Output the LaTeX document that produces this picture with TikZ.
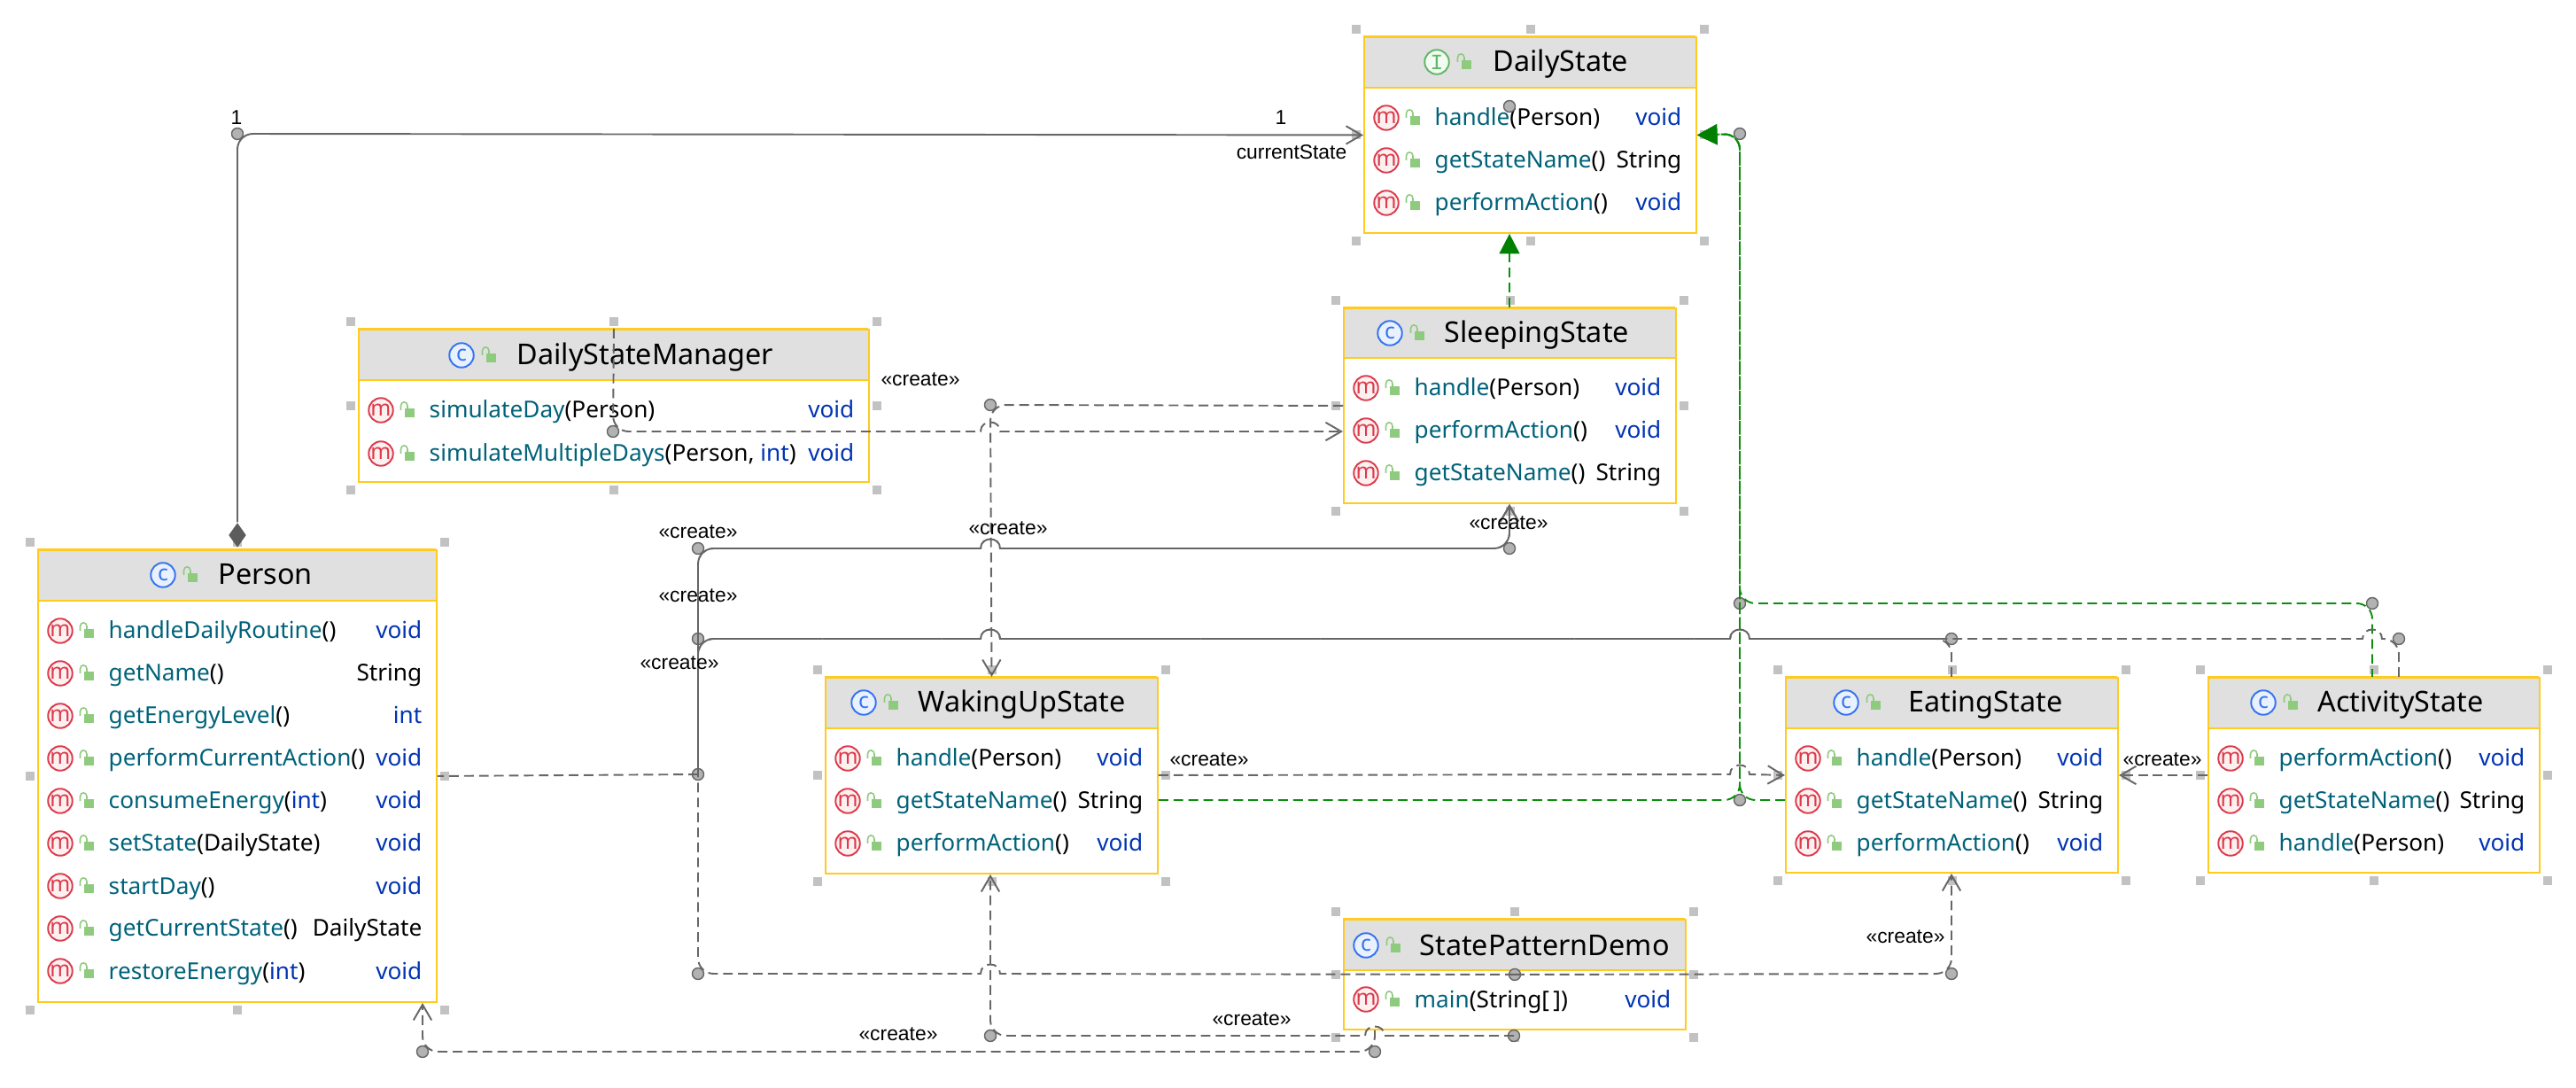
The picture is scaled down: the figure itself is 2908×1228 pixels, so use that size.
\documentclass[tikz,border=0pt]{standalone}
\usepackage{fontspec}
\usetikzlibrary{arrows.meta,shapes.geometric}
\setmainfont{Noto Sans}
\newfontfamily\lblfont{Liberation Sans}
\newfontfamily\ifacefont{Liberation Mono}
\definecolor{byel}{HTML}{FFCB1F}
\definecolor{hdgray}{HTML}{E0E0E0}
\definecolor{hndl}{HTML}{C2C2C2}
\definecolor{mred}{HTML}{DB3B4B}
\definecolor{mfill}{HTML}{FDF0F1}
\definecolor{cblue}{HTML}{3574F0}
\definecolor{cfill}{HTML}{E9F0FE}
\definecolor{igreen}{HTML}{5FB865}
\definecolor{ifill}{HTML}{F2FCF3}
\definecolor{lockg}{HTML}{8FCB7E}
\definecolor{teal0}{HTML}{00627A}
\definecolor{kwblue}{HTML}{0033B3}
\definecolor{edgegray}{HTML}{666666}
\definecolor{jfill}{HTML}{B2B2B2}
\definecolor{edgegreen}{HTML}{0B8E0B}
\definecolor{tipgreen}{HTML}{008000}
\newcounter{tn}
\newcommand{\mn}[1]{\textcolor{teal0}{#1}}
\newcommand{\kw}[1]{\textcolor{kwblue}{#1}}
\tikzset{
  ubox/.style={draw=byel,line width=0.55pt,anchor=north west,inner sep=0pt,rectangle},
  iconbase/.style={circle,inner sep=0pt,minimum size=0.275cm,line width=0.55pt,font=\fontsize{7}{7}\selectfont},
  iconm/.style={iconbase,draw=mred,fill=mfill,text=mred},
  iconc/.style={iconbase,draw=cblue,fill=cfill,text=cblue},
  iconi/.style={iconbase,draw=igreen,fill=ifill,text=igreen},
  rowtxt/.style={inner sep=0pt,font=\fontsize{7.45}{9}\selectfont},
  titletxt/.style={inner sep=0pt,anchor=base west,font=\fontsize{9.2}{11}\selectfont},
  lbl/.style={inner sep=0pt,text=black,font=\lblfont\fontsize{6.5}{8}\selectfont},
  joint/.style={circle,draw=edgegray,fill=jfill,line width=0.4pt,inner sep=0pt,minimum size=0.13cm},
  gedge/.style={draw=edgegray,line width=0.55pt,rounded corners=5pt,line cap=butt},
  gdash/.style={gedge,dash pattern=on 3.1pt off 1.7pt},
  gdashb/.style={gedge,dash pattern=on 3.1pt off 1.7pt,dash phase=2.4pt},
  grdash/.style={draw=edgegreen,line width=0.55pt,rounded corners=5pt,dash pattern=on 3.1pt off 1.7pt},
  opentip/.style={-{Straight Barb[length=5pt,width=5.8pt]}},
  greentip/.style={-{Triangle[length=6.4pt,width=6.5pt,fill=tipgreen,color=tipgreen]}},
}
\newcommand{\hd}[2]{\fill[hndl] ({#1-5},{#2-5}) rectangle ++(10,10);}
\newcommand{\umlbox}[6]{%
  \pgfmathsetmacro{\bw}{(#4-#2)*0.01}%
  \pgfmathsetmacro{\bh}{(#5-#3)*0.01}%
  \pgfmathsetmacro{\mx}{(#2+#4)/2+1}%
  \pgfmathsetmacro{\my}{(#3+#5)/2+1}%
  \hd{#2-8}{#3-8}\hd{\mx}{#3-8}\hd{#4+10}{#3-8}%
  \hd{#2-8}{\my}\hd{#4+10}{\my}%
  \hd{#2-8}{#5+10}\hd{\mx}{#5+10}\hd{#4+10}{#5+10}%
  \fill[hdgray] (#2,#3) rectangle (#4,#6);
  \node[ubox,minimum width=\bw cm,minimum height=\bh cm] (#1) at (#2,#3) {};
  \draw[byel,line width=0.75pt] (#2,#3) -- (#4,#3);
  \draw[byel,line width=0.75pt] (#2,#6) -- (#4,#6);
}
\newcommand{\lockic}[2]{%
  \begin{scope}[shift={(#1,#2)}]
    \fill[lockg] (-3,-2) rectangle (8,8);
    \draw[lockg,line width=0.45pt] (-7.5,0) -- (-7.5,-5) .. controls (-7.5,-10.5) and (0,-10.5) .. (0,-5) -- (0,-2);
  \end{scope}}
\newcommand{\urow}[5]{%
  \stepcounter{tn}%
  \node[iconm] (ic\arabic{tn}) at ({#1+26},#3) {m};
  \lockic{#1+56}{#3}
  \node[rowtxt,anchor=base west] (lt\arabic{tn}) at ({#1+80},{#3+9}) {#4};
  \node[rowtxt,anchor=base east] (rt\arabic{tn}) at ({#2-15},{#3+9}) {#5};
}
\newcommand{\utitle}[4]{%
  \stepcounter{tn}%
  \node[#1] (ic\arabic{tn}) at (#2,#3) {#4};
  \lockic{#2+31}{#3}
}
\newcommand{\ttl}[3]{\stepcounter{tn}\node[titletxt] (tt\arabic{tn}) at (#1,{#2+11}) {#3};}
\newcommand{\hopR}[2]{[sharp corners] -- ({#1-11},#2) .. controls ({#1-11},{#2-14}) and ({#1+11},{#2-14}) .. ({#1+11},#2) [rounded corners=5pt]}
\newcommand{\hopL}[2]{[sharp corners] -- ({#1+11},#2) .. controls ({#1+11},{#2-14}) and ({#1-11},{#2-14}) .. ({#1-11},#2) [rounded corners=5pt]}
\newcommand{\lab}[3]{\stepcounter{tn}\node[lbl] (lb\arabic{tn}) at (#1,#2) {#3};}
\begin{document}
\begin{tikzpicture}[x=0.01cm,y=-0.01cm]
\useasboundingbox (0,0) rectangle (2908,1228);
% boxes
\umlbox{daily}{1539}{41}{1914}{262}{99}
\umlbox{sleeping}{1516}{347}{1891}{567}{404}
\umlbox{manager}{404}{371}{980}{543}{429}
\umlbox{person}{42}{620}{492}{1130}{678}
\umlbox{waking}{931}{764}{1306}{985}{822}
\umlbox{eating}{2015}{764}{2390}{984}{822}
\umlbox{activity}{2492}{764}{2866}{984}{822}
\umlbox{demo}{1516}{1037}{1902}{1161}{1095}
% titles
\utitle{iconi}{1622}{70}{\ifacefont\fontsize{7}{7}\selectfont I}
\ttl{1685}{70}{DailyState}
\utitle{iconc}{1569}{376}{c}
\ttl{1630}{376}{SleepingState}
\utitle{iconc}{521}{401}{c}
\ttl{583}{401}{DailyStateManager}
\utitle{iconc}{184}{649}{c}
\ttl{246}{649}{Person}
\utitle{iconc}{975}{793}{c}
\ttl{1036}{793}{WakingUpState}
\utitle{iconc}{2084}{793}{c}
\ttl{2154}{793}{EatingState}
\utitle{iconc}{2555}{793}{c}
\ttl{2616}{793}{ActivityState}
\utitle{iconc}{1542}{1067}{c}
\ttl{1602}{1067}{StatePatternDemo}
% rows
\urow{1539}{1914}{133}{\mn{handle}(Person)}{\kw{void}}
\urow{1539}{1914}{181}{\mn{getStateName}()}{String}
\urow{1539}{1914}{229}{\mn{performAction}()}{\kw{void}}
\urow{1516}{1891}{438}{\mn{handle}(Person)}{\kw{void}}
\urow{1516}{1891}{486}{\mn{performAction}()}{\kw{void}}
\urow{1516}{1891}{534}{\mn{getStateName}()}{String}
\urow{404}{980}{463}{\mn{simulateDay}(Person)}{\kw{void}}
\urow{404}{980}{512}{\mn{simulateMultipleDays}(Person, \kw{int})}{\kw{void}}
\urow{42}{492}{712}{\mn{handleDailyRoutine}()}{\kw{void}}
\urow{42}{492}{760}{\mn{getName}()}{String}
\urow{42}{492}{808}{\mn{getEnergyLevel}()}{\kw{int}}
\urow{42}{492}{856}{\mn{performCurrentAction}()}{\kw{void}}
\urow{42}{492}{904}{\mn{consumeEnergy}(\kw{int})}{\kw{void}}
\urow{42}{492}{952}{\mn{setState}(DailyState)}{\kw{void}}
\urow{42}{492}{1000}{\mn{startDay}()}{\kw{void}}
\urow{42}{492}{1048}{\mn{getCurrentState}()}{DailyState}
\urow{42}{492}{1096}{\mn{restoreEnergy}(\kw{int})}{\kw{void}}
\urow{931}{1306}{856}{\mn{handle}(Person)}{\kw{void}}
\urow{931}{1306}{904}{\mn{getStateName}()}{String}
\urow{931}{1306}{952}{\mn{performAction}()}{\kw{void}}
\urow{2015}{2390}{856}{\mn{handle}(Person)}{\kw{void}}
\urow{2015}{2390}{904}{\mn{getStateName}()}{String}
\urow{2015}{2390}{952}{\mn{performAction}()}{\kw{void}}
\urow{2492}{2866}{856}{\mn{performAction}()}{\kw{void}}
\urow{2492}{2866}{904}{\mn{getStateName}()}{String}
\urow{2492}{2866}{952}{\mn{handle}(Person)}{\kw{void}}
\urow{1516}{1902}{1128}{\mn{main}(String[\,])}{\kw{void}}
% joints
\node[joint] (jcomp) at (268,151) {};
\node[joint] (jdaily) at (1704,120) {};
\node[joint] (jgreenr) at (1964,151) {};
\node[joint] (jgreent) at (1964,681) {};
\node[joint] (jgreenb) at (1964,903) {};
\node[joint] (jact) at (2678,681) {};
\node[joint] (jmgr) at (692,487) {};
\node[joint] (jslp) at (1118,457) {};
\node[joint] (jtop) at (788,619) {};
\node[joint] (jmid) at (788,721) {};
\node[joint] (jper) at (788,874) {};
\node[joint] (jbot) at (788,1099) {};
\node[joint] (jsl2) at (1704,619) {};
\node[joint] (jeat) at (2203,721) {};
\node[joint] (jac2) at (2708,721) {};
\node[joint] (jdc) at (demo.center) {};
\node[joint] (jdb) at (1709,1169) {};
\node[joint] (jwk) at (1118,1169) {};
\node[joint] (jdl) at (1552,1187) {};
\node[joint] (jpb) at (477,1187) {};
\node[joint] (jeb) at (2203,1099) {};
% composition
\node[diamond,fill=edgegray!90!black,inner sep=0pt,minimum width=0.2cm,minimum height=0.28cm] (diam) at (268,604) {};
\draw[gedge,opentip] (diam.north) -- (jcomp.center) -- (daily.west);
% realizations
\draw[grdash,greentip] (sleeping.north -| jdaily) -- (daily.south -| jdaily);
\draw[grdash,greentip] (waking.east |- jgreenb) -- (jgreenb.center) -- (jgreenr.center) -- (daily.east);
\draw[grdash,greentip] (eating.west |- jgreenb) -- (jgreenb.center) -- (jgreenr.center) -- (daily.east);
\draw[grdash,greentip,dash phase=0.6pt] (activity.north -| jact) -- (jact.center) -- (jgreent.center) -- (jgreenr.center) -- (daily.east);
% manager
\draw[gdash,opentip] (manager.north) -- (jmgr.center) \hopR{1118}{487} -- (sleeping.west |- jmgr);
\draw[gdash,opentip] (sleeping.west) -- (jslp.center) -- (waking.north);
% person / sleeping / eating / activity
\draw[gdash,opentip] (jper.center) -- (jtop.center) \hopR{1118}{619} -- (jsl2.center) -- (sleeping.south -| jsl2);
\draw[gdashb,opentip] (jper.center) -- (jtop.center) \hopR{1118}{619} -- (jsl2.center) -- (sleeping.south -| jsl2);
\draw[gdash] (eating.north -| jeat) -- (jeat.center) \hopL{1964}{721} \hopL{1118}{721} -- (jmid.center) -- (jper.center);
\draw[gdash] (activity.north -| jac2) -- (jac2.center) \hopL{2678}{721} \hopL{1964}{721} \hopL{1118}{721} -- (jmid.center) -- (jper.center);
\draw[gdash] (jper.center) -- (person.east);
% demo
\draw[gdash] (jdc.center) \hopL{1118}{1099} -- (jbot.center) -- (jper.center);
\draw[gdash,opentip] (jdc.center) -- (jeb.center) -- (eating.south -| jeb);
\draw[gdash,opentip] (jdb.center) \hopL{1552}{1169} -- (jwk.center) -- (waking.south -| jwk);
\draw[gdash,opentip] (demo.south -| jdl) -- (jdl.center) -- (jpb.center) -- (person.south -| jpb);
% waking - eating, activity - eating
\draw[gdash,opentip] (waking.east |- eating.west) \hopR{1964}{874} -- (eating.west);
\draw[gdash,opentip] (activity.west) -- (eating.east);
% labels
\lab{267}{133}{1}
\lab{1446}{133}{1}
\lab{1458}{172}{currentState}
\lab{1039}{428}{«create»}
\lab{788}{600}{«create»}
\lab{1138}{596}{«create»}
\lab{1703}{590}{«create»}
\lab{788}{672}{«create»}
\lab{767}{748}{«create»}
\lab{1365}{857}{«create»}
\lab{2441}{857}{«create»}
\lab{2151}{1057}{«create»}
\lab{1014}{1167}{«create»}
\lab{1413}{1150}{«create»}
\end{tikzpicture}
\end{document}
